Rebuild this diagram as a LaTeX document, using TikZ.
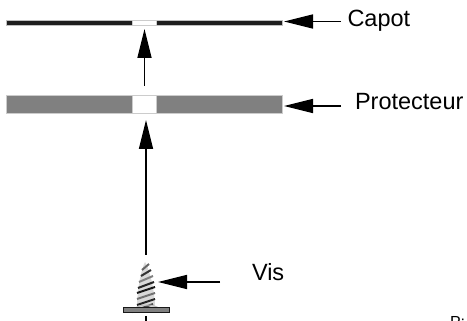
\documentclass[tikz,border=0pt]{standalone}
\usepackage{fontspec}
\setmainfont{Liberation Sans}
\usetikzlibrary{arrows.meta,positioning}
\definecolor{bargray}{HTML}{808080}
\definecolor{capotdark}{HTML}{1E1E1E}
\begin{document}
\begin{tikzpicture}[x=1pt,y=-1pt,inner sep=0pt,outer sep=0pt]
	\useasboundingbox (0,0) rectangle (467,321);
	\tikzstyle{label_text}=[font=\fontsize{23.5}{28}\selectfont,anchor=base west]
	\tikzstyle{capot_part}=[fill=capotdark,minimum height=5pt,draw=black!25,line width=0.6pt]
	\tikzstyle{prot_part}=[fill=bargray,minimum height=18pt,draw=black!20,line width=0.8pt]
	\tikzstyle{hole}=[fill=white,draw=black!20,line width=0.8pt]
	\tikzstyle{big_arrow}=[-{Triangle[length=29pt,width=14pt]},line width=1.5pt]

	% capot
	\node[capot_part,minimum width=126pt] (capot_l) at (69,22.5) {};
	\node[capot_part,minimum width=126pt] (capot_r) at (219,22.5) {};
	\node[hole,minimum width=24pt,minimum height=5pt] (capot_hole) at (144,22.5) {};
	% protecteur
	\node[prot_part,minimum width=126pt] (prot_l) at (69,104) {};
	\node[prot_part,minimum width=126pt] (prot_r) at (219,104) {};
	\node[hole,minimum width=24pt,minimum height=18pt] (prot_hole) at (144,104) {};

	% textes
	\node[label_text] (capot_txt) at (347.5,27) {Capot};
	\node[label_text] (prot_txt) at (355,110) {Protecteur};
	\node[label_text] (vis_txt) at (252,281) {Vis};
	\node[font=\fontsize{16}{18}\selectfont,anchor=base west] (page_txt) at (450,327) {P:};

	% vis
	\coordinate (screw_top) at (146,255);
	\coordinate (screw_mid) at (158,282);
	\fill[black!15] (137,308) .. controls (137,290) and (141,270) .. (145,262) .. controls (149,268) and (155,290) .. (155,308) -- cycle;
	\foreach \yy/\xa/\xb/\col in {
		267/142/149/black!60,
		273/141/151/black!80,
		279/139/153/black!50,
		285/138/154/black!85,
		290/137/155/black!90,
		296/137/155/black!55,
		302/137/155/black!85,
		307/137/153/black!70}
		\draw[\col,line width=2pt] (\xa,\yy+3) -- (\xb,\yy-3);
	\draw[black!25,line width=1pt] (132,313) arc[start angle=180,end angle=360,x radius=15,y radius=8];
	\node[fill=black!50,draw=black!90,line width=1.2pt,minimum width=46pt,minimum height=5pt] (screw_head) at (146.5,310) {};
	\coordinate (screw_tail) at (146,316);
	\coordinate (screw_end) at (146,321);
	\draw[line width=1.5pt] (screw_tail) -- (screw_end);

	% fleches
	\coordinate (up_a) at (144.5,86);
	\coordinate (up_b) at (144.5,29);
	\coordinate (up_c) at (146,120);
	\coordinate (capot_tail) at (341,21.5);
	\coordinate (capot_tip) at (284,21.5);
	\coordinate (prot_tail) at (341,106);
	\coordinate (prot_tip) at (284,106);
	\coordinate (vis_tail) at (220,282);
	\path[big_arrow]
	(up_a) edge (up_b)
	(screw_top) edge (up_c)
	(capot_tail) edge (capot_tip)
	(prot_tail) edge (prot_tip)
	(vis_tail) edge (screw_mid);
\end{tikzpicture}
\end{document}
